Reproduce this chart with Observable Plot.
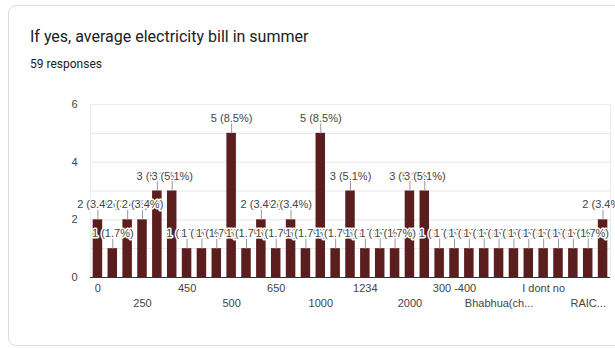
<!DOCTYPE html>
<html><head><meta charset="utf-8">
<script src="https://cdn.jsdelivr.net/npm/d3@7"></script>
<script src="https://cdn.jsdelivr.net/npm/@observablehq/plot@0.6"></script>
<style>
body{margin:0;background:#fff;width:615px;height:348px;overflow:hidden;position:relative;font-family:Roboto,"Liberation Sans",Arial,sans-serif;}
#card{position:absolute;left:8px;top:5px;width:640px;height:341px;border:1px solid #dadce0;border-radius:8px;box-sizing:border-box;}
#title{position:absolute;left:30px;top:27px;font-size:16px;color:#202124;line-height:20px;white-space:nowrap;}
#sub{position:absolute;left:30px;top:56px;font-size:12px;color:#202124;line-height:16px;white-space:nowrap;}
#chart{position:absolute;left:0;top:0;}
</style></head><body>
<div id="card"></div>
<div id="title">If yes, average electricity bill in summer</div>
<div id="sub">59 responses</div>
<div id="chart"></div>
<script>
const categories = ["0","100","150","250","300","400","450","470","480","500","550","600","650","700","800","1000","1100","1200","1234","1500","1800","2000","2500","3000","300 -400","400-500","500-600","Bhabhua(ch...","Depends","Don't know","I dont no","No idea","Not fixed","RAIC...","Varies"];
const counts = [2,1,2,2,3,3,1,1,1,5,1,2,1,2,1,5,1,3,1,1,1,3,3,1,1,1,1,1,1,1,1,1,1,1,2];
const totalResponses = 59;
const xTicksRow1 = ["0","450","650","1234","300 -400","I dont no"];
const xTicksRow2 = ["250","500","1000","2000","Bhabhua(ch...","RAIC..."];
const yTicks = [0,2,4,6];
const yGrid = [0,1,2,3,4,5,6];

const data = categories.map((c, i) => ({
  category: c,
  count: counts[i],
  label: `${counts[i]} (${(counts[i] / totalResponses * 100).toFixed(1)}%)`
}));

const stem = {draw(ctx) { ctx.moveTo(0, 0); ctx.lineTo(0, -10); }};

const chart = Plot.plot({
  width: 615, height: 348,
  marginTop: 104, marginBottom: 71, marginLeft: 90, marginRight: 5,
  style: {fontFamily: '"Liberation Sans", Arial, sans-serif', fontSize: "11px", color: "#444", background: "transparent"},
  x: {domain: categories, paddingInner: 0.36, paddingOuter: 0.18, round: false},
  y: {domain: [0, 6]},
  marks: [
    Plot.gridY(yGrid, {stroke: "#e6e6e6", strokeOpacity: 1}),
    Plot.frame({stroke: "#ececec"}),
    Plot.barY(data, {x: "category", y: "count", fill: "#5b1e1e"}),
    Plot.ruleY([0], {stroke: "#333"}),
    Plot.text(data, {x: "category", y: "count", text: "label", dy: -15, fill: "#444", stroke: "white", strokeWidth: 3, fontSize: 11}),
    Plot.dot(data, {x: "category", y: "count", symbol: stem, stroke: "#999", fill: "none", strokeWidth: 1, r: 3}),
    Plot.axisY(yTicks, {tickSize: 0, tickPadding: 13, fontSize: 11, fill: "#444", label: null}),
    Plot.axisX(xTicksRow1, {tickSize: 0, tickPadding: 7, fontSize: 11, fill: "#444", label: null}),
    Plot.axisX(xTicksRow2, {tickSize: 0, tickPadding: 22, fontSize: 11, fill: "#444", label: null})
  ]
});
document.getElementById("chart").appendChild(chart);
</script>
</body></html>
